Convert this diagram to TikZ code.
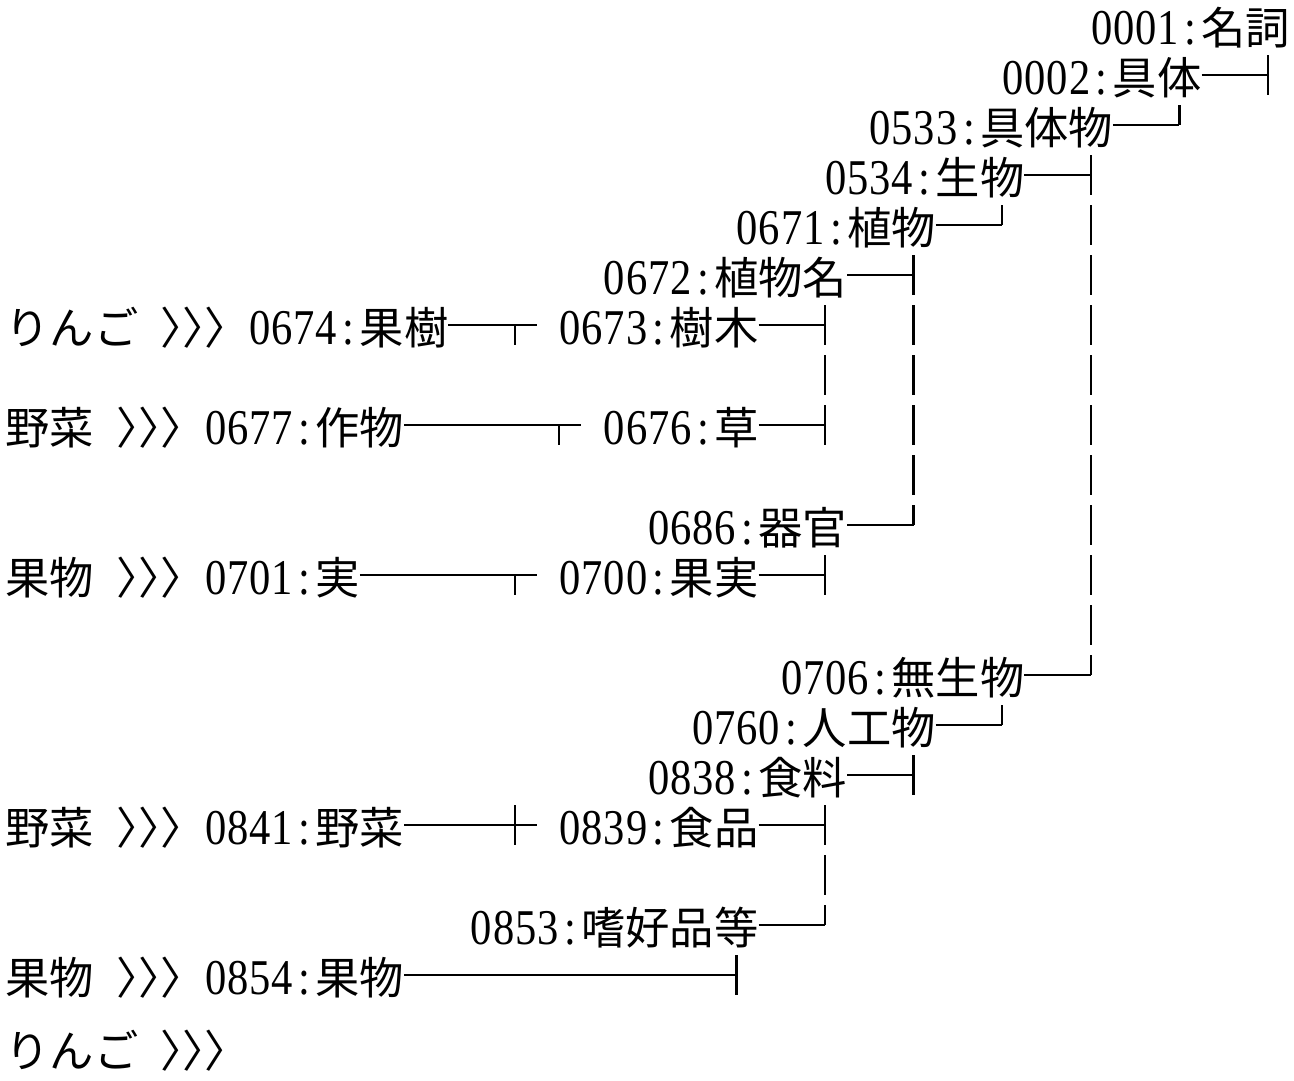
\documentclass[tikz,border=0pt]{standalone}
\usepackage{fontspec}
\setmainfont{Liberation Serif}
\newfontfamily\jp{Noto Sans CJK JP}
\newfontfamily\dg[FakeStretch=0.85,Scale=1.13]{Liberation Serif}
\newlength\hw \setlength\hw{22.15pt}
\newcommand\asc[1]{\ascloop#1\relax}
\def\ascloop#1{\ifx#1\relax\else\makebox[\hw][c]{\dg #1}\expandafter\ascloop\fi}
\newcommand\zw[1]{{\jp #1}}
\newcommand\hsp{\hspace*{\hw}}
\newcommand\gtc{\makebox[\hw][l]{\jp 〉}}
\newcommand\gts{\gtc\gtc\gtc}
\begin{document}
\begin{tikzpicture}[x=22.15pt,y=-50pt,
  txt/.style={inner sep=0pt,outer sep=0pt,anchor=west,text height=41.5pt,text depth=2.8pt,font=\fontsize{44.3pt}{50pt}\selectfont},
  hl/.style={line width=2.5pt},
  vl/.style={line width=2.3pt,dash pattern=on 40pt off 10pt}]
\useasboundingbox (-0.2438,-0.5) rectangle (58.176,21.1);
\node[txt] (t1) at (49,0) {\asc{0001:}\zw{名詞}};
\node[txt] (t2) at (45,1) {\asc{0002:}\zw{具体}};
\node[txt] (t3) at (39,2) {\asc{0533:}\zw{具体物}};
\node[txt] (t4) at (37,3) {\asc{0534:}\zw{生物}};
\node[txt] (t5) at (33,4) {\asc{0671:}\zw{植物}};
\node[txt] (t6) at (27,5) {\asc{0672:}\zw{植物名}};
\node[txt] (t7a) at (0,6) {\zw{りんご}\hsp\gts\hsp\asc{0674:}\zw{果樹}};
\node[txt] (t7b) at (25,6) {\asc{0673:}\zw{樹木}};
\node[txt] (t8a) at (0,8) {\zw{野菜}\hsp\gts\hsp\asc{0677:}\zw{作物}};
\node[txt] (t8b) at (27,8) {\asc{0676:}\zw{草}};
\node[txt] (t10) at (29,10) {\asc{0686:}\zw{器官}};
\node[txt] (t11a) at (0,11) {\zw{果物}\hsp\gts\hsp\asc{0701:}\zw{実}};
\node[txt] (t11b) at (25,11) {\asc{0700:}\zw{果実}};
\node[txt] (t13) at (35,13) {\asc{0706:}\zw{無生物}};
\node[txt] (t14) at (31,14) {\asc{0760:}\zw{人工物}};
\node[txt] (t15) at (29,15) {\asc{0838:}\zw{食料}};
\node[txt] (t16a) at (0,16) {\zw{野菜}\hsp\gts\hsp\asc{0841:}\zw{野菜}};
\node[txt] (t16b) at (25,16) {\asc{0839:}\zw{食品}};
\node[txt] (t18) at (21,18) {\asc{0853:}\zw{嗜好品等}};
\node[txt] (t19) at (0,19) {\zw{果物}\hsp\gts\hsp\asc{0854:}\zw{果物}};
\node[txt] (t20) at (0,20.46) {\zw{りんご}\hsp\gts};
% 0002
\coordinate (j2) at (57,1); \coordinate (j2u) at (57,0.6); \coordinate (j2d) at (57,1.4);
\draw[hl] (t2.east) -- (j2); \draw[vl] (j2u) -- (j2d);
% 0533
\coordinate (j3) at (53,2); \coordinate (j3u) at (53,1.6);
\draw[hl] (t3.east) -- (j3); \draw[vl] (j3u) -- (j3);
% 0534 / 0706
\coordinate (j4) at (49,3); \coordinate (j4u) at (49,2.6); \coordinate (j13) at (49,13);
\draw[hl] (t4.east) -- (j4); \draw[hl] (t13.east) -- (j13); \draw[vl] (j4u) -- (j13);
% 0671
\coordinate (j5) at (45,4); \coordinate (j5u) at (45,3.6);
\draw[hl] (t5.east) -- (j5); \draw[vl] (j5u) -- (j5);
% 0672 / 0686
\coordinate (j6) at (41,5); \coordinate (j6u) at (41,4.6); \coordinate (j10) at (41,10);
\draw[hl] (t6.east) -- (j6); \draw[hl] (t10.east) -- (j10); \draw[vl] (j6u) -- (j10);
% 0674
\coordinate (k7) at (24,6); \coordinate (k7t) at (23,6); \coordinate (k7d) at (23,6.4);
\draw[hl] (t7a.east) -- (k7); \draw[vl] (k7t) -- (k7d);
% 0673 / 0676
\coordinate (j7) at (37,6); \coordinate (j7u) at (37,5.6); \coordinate (j8) at (37,8); \coordinate (j8d) at (37,8.4);
\draw[hl] (t7b.east) -- (j7); \draw[hl] (t8b.east) -- (j8); \draw[vl] (j7u) -- (j8d);
% 0677
\coordinate (k8) at (26,8); \coordinate (k8t) at (25,8); \coordinate (k8d) at (25,8.4);
\draw[hl] (t8a.east) -- (k8); \draw[vl] (k8t) -- (k8d);
% 0701
\coordinate (k11) at (24,11); \coordinate (k11t) at (23,11); \coordinate (k11d) at (23,11.4);
\draw[hl] (t11a.east) -- (k11); \draw[vl] (k11t) -- (k11d);
% 0700
\coordinate (j11) at (37,11); \coordinate (j11u) at (37,10.6); \coordinate (j11d) at (37,11.4);
\draw[hl] (t11b.east) -- (j11); \draw[vl] (j11u) -- (j11d);
% 0760
\coordinate (j14) at (45,14); \coordinate (j14u) at (45,13.6);
\draw[hl] (t14.east) -- (j14); \draw[vl] (j14u) -- (j14);
% 0838
\coordinate (j15) at (41,15); \coordinate (j15u) at (41,14.6); \coordinate (j15d) at (41,15.4);
\draw[hl] (t15.east) -- (j15); \draw[vl] (j15u) -- (j15d);
% 0841
\coordinate (k16) at (24,16); \coordinate (k16u) at (23,15.6); \coordinate (k16d) at (23,16.4);
\draw[hl] (t16a.east) -- (k16); \draw[vl] (k16u) -- (k16d);
% 0839 / 0853
\coordinate (j16) at (37,16); \coordinate (j16u) at (37,15.6); \coordinate (j18) at (37,18);
\draw[hl] (t16b.east) -- (j16); \draw[hl] (t18.east) -- (j18); \draw[vl] (j16u) -- (j18);
% 0854
\coordinate (j19) at (33,19); \coordinate (j19u) at (33,18.6); \coordinate (j19d) at (33,19.4);
\draw[hl] (t19.east) -- (j19); \draw[vl] (j19u) -- (j19d);
\end{tikzpicture}
\end{document}
